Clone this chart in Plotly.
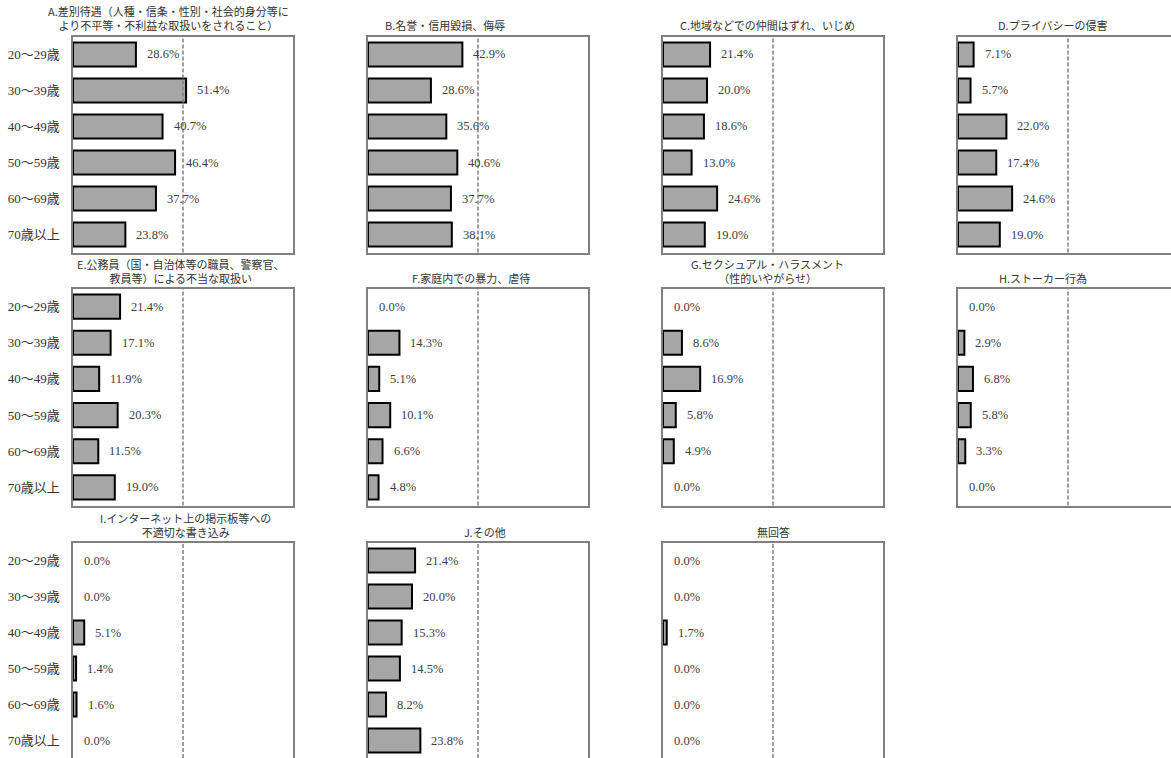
import plotly.graph_objects as go

# ---------------- data ----------------
categories = ["20～29歳", "30～39歳", "40～49歳", "50～59歳", "60～69歳", "70歳以上"]

titles = [
    "A.差別待遇（人種・信条・性別・社会的身分等に<br>より不平等・不利益な取扱いをされること）",
    "B.名誉・信用毀損、侮辱",
    "C.地域などでの仲間はずれ、いじめ",
    "D.プライバシーの侵害",
    "E.公務員（国・自治体等の職員、警察官、<br>教員等）による不当な取扱い",
    "F.家庭内での暴力、虐待",
    "G.セクシュアル・ハラスメント<br>（性的いやがらせ）",
    "H.ストーカー行為",
    "I.インターネット上の掲示板等への<br>不適切な書き込み",
    "J.その他",
    "無回答",
]

vals_A = [28.6, 51.4, 40.7, 46.4, 37.7, 23.8]
vals_B = [42.9, 28.6, 35.6, 40.6, 37.7, 38.1]
vals_C = [21.4, 20.0, 18.6, 13.0, 24.6, 19.0]
vals_D = [7.1, 5.7, 22.0, 17.4, 24.6, 19.0]
vals_E = [21.4, 17.1, 11.9, 20.3, 11.5, 19.0]
vals_F = [0.0, 14.3, 5.1, 10.1, 6.6, 4.8]
vals_G = [0.0, 8.6, 16.9, 5.8, 4.9, 0.0]
vals_H = [0.0, 2.9, 6.8, 5.8, 3.3, 0.0]
vals_I = [0.0, 0.0, 5.1, 1.4, 1.6, 0.0]
vals_J = [21.4, 20.0, 15.3, 14.5, 8.2, 23.8]
vals_NA = [0.0, 0.0, 1.7, 0.0, 0.0, 0.0]

series = [vals_A, vals_B, vals_C, vals_D, vals_E, vals_F,
          vals_G, vals_H, vals_I, vals_J, vals_NA]

reference_line = 50  # dashed guide line (%)

# ---------------- layout geometry ----------------
W, H = 1171, 758
col_left_px = [73, 368, 663, 958]
panel_w_px = 220
px_per_pct = 2.2
row_px = [(36.5, 252.5), (288.5, 505.5), (542.5, 758.5)]
title_xshift = [-15, -33, -6, -16, -2, -7, -6, -25, 2, 7, 0]

FONT_NUM = "Liberation Serif, Noto Sans CJK JP"
FONT_JP = "Noto Sans CJK JP, Liberation Serif"
TXT = "#404040"
BORDER = "#808080"

fig = go.Figure()
layout_axes = {}
annotations = []
shapes = []

for i, vals in enumerate(series):
    r, c = divmod(i, 4)
    n = i + 1
    xa = "x" if n == 1 else f"x{n}"
    ya = "y" if n == 1 else f"y{n}"
    xkey = "xaxis" if n == 1 else f"xaxis{n}"
    ykey = "yaxis" if n == 1 else f"yaxis{n}"

    left = col_left_px[c]
    right = min(W, left + panel_w_px)
    xmax = (right - left) / px_per_pct
    top, bot = row_px[r]
    bot_c = min(H, bot)
    rows_visible = 6 * (bot_c - top) / (bot - top)
    y_hi = -0.5 + rows_visible

    fig.add_trace(go.Bar(
        x=vals, y=categories, orientation="h",
        xaxis=xa, yaxis=ya,
        width=0.67,
        marker=dict(color="#A6A6A6",
                    line=dict(color="#000000",
                              width=[0 if v == 0 else 2 for v in vals])),
        hoverinfo="x+y", showlegend=False,
    ))

    layout_axes[xkey] = dict(
        domain=[left / W, right / W], anchor=ya,
        range=[0, xmax], showticklabels=False, showgrid=False,
        zeroline=False, ticks="",
        showline=True, linecolor=BORDER, linewidth=1.5,
        mirror=(r < 2), side="top" if r == 2 else "bottom",
        fixedrange=True,
    )
    layout_axes[ykey] = dict(
        domain=[1 - bot_c / H, 1 - top / H], anchor=xa,
        type="category", range=[y_hi, -0.5],
        showticklabels=(c == 0), ticks="", showgrid=False, zeroline=False,
        showline=True, linecolor=BORDER, linewidth=1.5, mirror=True,
        tickfont=dict(family=FONT_NUM, size=13, color="#333333"),
        ticklabelstandoff=9, automargin=False, fixedrange=True,
    )

    shapes.append(dict(
        type="line", xref=xa, yref=f"{ya} domain",
        x0=reference_line, x1=reference_line, y0=0, y1=1,
        line=dict(color=BORDER, width=1.5, dash="4px,2px"),
    ))

    for cat, v in zip(categories, vals):
        annotations.append(dict(
            xref=xa, yref=ya, x=v, y=cat, text=f"{v:.1f}%",
            xanchor="left", yanchor="middle", xshift=9, showarrow=False,
            font=dict(family=FONT_NUM, size=12.5, color=TXT),
        ))

    annotations.append(dict(
        xref="paper", yref="paper",
        x=(left + panel_w_px / 2) / W, y=1 - top / H,
        xanchor="center", yanchor="bottom", yshift=1,
        xshift=title_xshift[i],
        text=titles[i], showarrow=False, align="center",
        font=dict(family=FONT_JP, size=11, color="#333333"),
    ))

fig.update_layout(
    width=W, height=H,
    margin=dict(l=0, r=0, t=0, b=0),
    paper_bgcolor="white", plot_bgcolor="white",
    bargap=0.33,
    annotations=annotations, shapes=shapes,
    **layout_axes,
)

fig.write_html(
    "out.html",
    config={"displayModeBar": False},
    post_script="document.body.style.margin='0';document.body.style.overflow='hidden';",
)
